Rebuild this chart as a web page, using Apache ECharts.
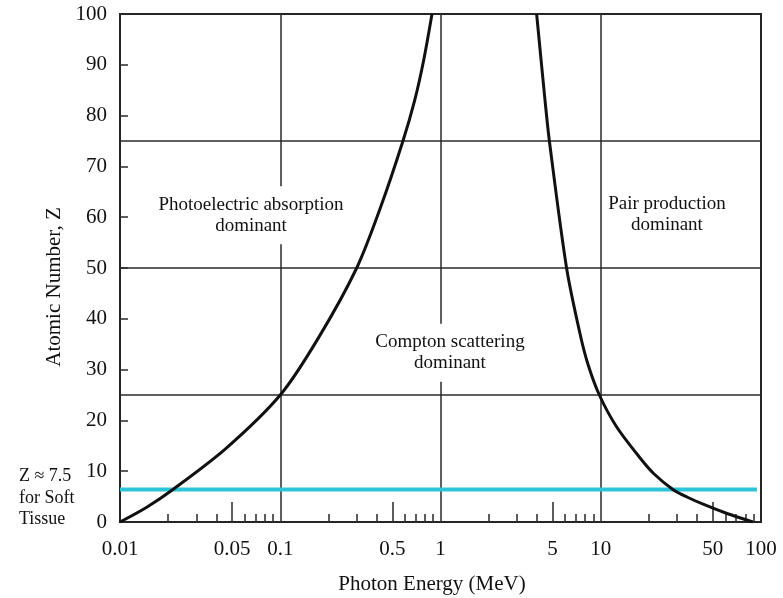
<!DOCTYPE html>
<html>
<head>
<meta charset="utf-8">
<script src="https://cdn.jsdelivr.net/npm/echarts@6/dist/echarts.min.js"></script>
<style>
  html, body { margin: 0; padding: 0; background: #fff; }
  #main { width: 783px; height: 598px; }
</style>
</head>
<body>
<div id="main"></div>
<script>
// boundary photoelectric / compton (energy in MeV, atomic number Z)
const photoE = [0.01, 0.0146, 0.0214, 0.0459, 0.1, 0.172, 0.30, 0.42, 0.583, 0.69, 0.783, 0.885];
const photoZ = [0, 2.86, 6.4, 14.5, 25, 36.1, 50, 61.7, 75, 83, 90.7, 100];

// boundary compton / pair production
const pairE = [3.98, 4.49, 4.78, 6.12, 7.43, 8.33, 9.8, 12.52, 17.6, 21.46, 28.2, 34.78, 44.7, 61.4, 89];
const pairZ = [100, 83, 75, 50, 37, 31.0, 25, 18.8, 12.6, 9.5, 6.4, 4.87, 3.35, 1.67, 0];

// soft tissue line
const tissueE = [0.01, 94.4];
const tissueZ = 6.4;

// tick labels
const energyTicks = [0.01, 0.05, 0.1, 0.5, 1, 5, 10, 50, 100];
const halfDecadeTicks = [0.05, 0.5, 5, 50];
const decades = [0.01, 0.1, 1, 10];
const minorSteps = [2, 3, 4, 6, 7, 8, 9];

// region notes
const noteE = [0.0657, 1.146, 25.9];
const noteZ = [60.4, 33.3, 60.6];
const noteText = [
	'Photoelectric absorption\ndominant',
	'Compton scattering\ndominant',
	'Pair production\ndominant'
];

const serif = '"Liberation Serif", "DejaVu Serif", serif';
const ink = '#111';

const minorTicks = [];
decades.forEach(d => minorSteps.forEach(m => minorTicks.push(d * m)));

const toLog = v => Math.log10(v);
const fromLog = v => String(parseFloat(Math.pow(10, v).toPrecision(6)));

const chart = echarts.init(document.getElementById('main'));

const option = {
	animation: false,
	backgroundColor: '#fff',
	grid: {
		left: 120,
		right: 22,
		top: 14,
		bottom: 76,
		containLabel: false,
		outerBoundsMode: 'none',
		show: true,
		borderColor: '#1a1a1a',
		borderWidth: 2
	},
	xAxis: [
		{
			type: 'log',
			logBase: 10,
			min: 0.01,
			max: 100,
			axisLine: { show: false },
			axisTick: { show: false },
			axisLabel: { show: false },
			splitLine: { show: true, lineStyle: { color: '#2a2a2a', width: 1.5 } }
		},
		{
			// label + minor tick axis, in log10 space
			type: 'value',
			min: -2,
			max: 2,
			position: 'bottom',
			axisLine: { show: false, onZero: false },
			splitLine: { show: false },
			axisTick: {
				show: true,
				inside: true,
				length: 8,
				customValues: minorTicks.map(toLog),
				lineStyle: { color: '#2a2a2a', width: 1.5 }
			},
			axisLabel: {
				show: true,
				customValues: energyTicks.map(toLog),
				formatter: fromLog,
				margin: 17,
				fontFamily: serif,
				fontSize: 21,
				color: ink
			}
		},
		{
			type: 'value',
			min: -2,
			max: 2,
			position: 'bottom',
			axisLine: { show: false, onZero: false },
			splitLine: { show: false },
			axisLabel: { show: false },
			axisTick: {
				show: true,
				inside: true,
				length: 20,
				customValues: halfDecadeTicks.map(toLog),
				lineStyle: { color: '#2a2a2a', width: 1.5 }
			},
			name: 'Photon Energy (MeV)',
			nameLocation: 'middle',
			nameGap: 52,
			nameTextStyle: { fontFamily: serif, fontSize: 21, color: ink, padding: [0, 17, 0, 0] }
		}
	],
	yAxis: [
		{
			type: 'value',
			min: 0,
			max: 100,
			interval: 10,
			axisLine: { show: false, onZero: false },
			axisTick: { show: true, inside: true, length: 8, lineStyle: { color: '#2a2a2a', width: 1.5 } },
			axisLabel: { margin: 13, fontFamily: serif, fontSize: 21, color: ink },
			splitLine: { show: false }
		},
		{
			type: 'value',
			min: 0,
			max: 100,
			interval: 25,
			position: 'left',
			axisLine: { show: false, onZero: false },
			axisTick: { show: false },
			axisLabel: { show: false },
			splitLine: { show: true, lineStyle: { color: '#2a2a2a', width: 1.5 } }
		}
	],
	graphic: [
		{
			type: 'text',
			x: 54,
			y: 287,
			rotation: Math.PI / 2,
			style: {
				text: 'Atomic Number, Z',
				fontFamily: serif,
				fontSize: 21,
				fill: ink,
				textAlign: 'center',
				textVerticalAlign: 'middle'
			}
		},
		{
			type: 'text',
			x: 19,
			y: 466,
			style: {
				text: 'Z \u2248 7.5\nfor Soft\nTissue',
				fontFamily: serif,
				fontSize: 18,
				lineHeight: 21.5,
				fill: ink,
				textAlign: 'left',
				textVerticalAlign: 'top'
			}
		}
	],
	series: [
		{
			name: 'soft tissue',
			type: 'line',
			xAxisIndex: 0,
			yAxisIndex: 0,
			symbol: 'none',
			data: tissueE.map(e => [e, tissueZ]),
			lineStyle: { color: '#2cc4d9', width: 4 },
			z: 3
		},
		{
			name: 'photo/compton',
			type: 'line',
			xAxisIndex: 0,
			yAxisIndex: 0,
			symbol: 'none',
			smooth: 0.3,
			data: photoE.map((e, i) => [e, photoZ[i]]),
			lineStyle: { color: '#111', width: 3 },
			z: 4
		},
		{
			name: 'compton/pair',
			type: 'line',
			xAxisIndex: 0,
			yAxisIndex: 0,
			symbol: 'none',
			smooth: 0.3,
			data: pairE.map((e, i) => [e, pairZ[i]]),
			lineStyle: { color: '#111', width: 3 },
			z: 4
		},
		{
			name: 'notes',
			type: 'scatter',
			xAxisIndex: 0,
			yAxisIndex: 0,
			symbolSize: 1,
			itemStyle: { color: '#fff', opacity: 1 },
			data: noteE.map((e, i) => [e, noteZ[i]]),
			label: {
				show: true,
				position: 'inside',
				formatter: p => noteText[p.dataIndex],
				fontFamily: serif,
				fontSize: 19,
				lineHeight: 21,
				color: ink,
				opacity: 1,
				align: 'center',
				backgroundColor: '#fff',
				padding: [8, 3]
			},
			emphasis: { disabled: true },
			z: 5
		}
	]
};

chart.setOption(option);
</script>
</body>
</html>
